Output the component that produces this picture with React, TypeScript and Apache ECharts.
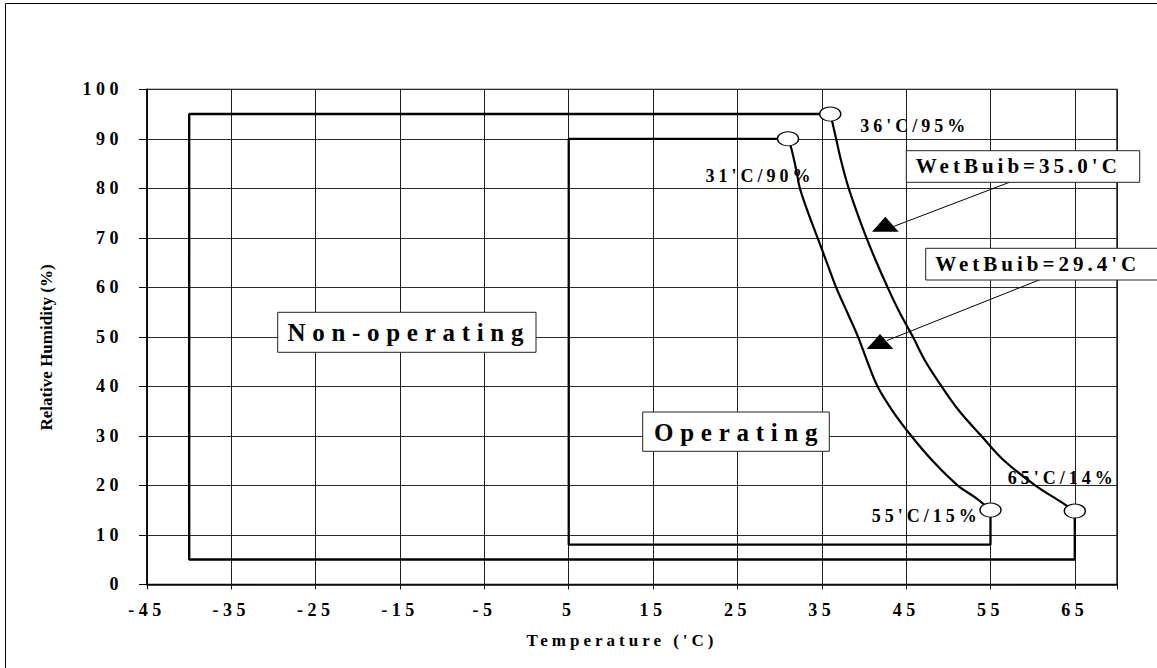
import React, { useEffect, useRef } from "react";
import * as echarts from "echarts";

// ---- axis ranges / ticks ----
const X_MIN = -45;
const X_MAX = 70;
const X_STEP = 10;
const Y_MIN = 0;
const Y_MAX = 100;
const Y_STEP = 10;

// ---- envelopes (temperature 'C, relative humidity %) ----
const nonOperatingTemp = [36, -40, -40, 65, 65];
const nonOperatingRH = [95, 95, 5, 5, 14.8];
const operatingTemp = [31, 5, 5, 55, 55];
const operatingRH = [90, 90, 8, 8, 15];

// ---- wet bulb curves ----
const wetBulb294Temp = [31, 31.4, 32, 32.4, 33.4, 34.5, 35.6, 36.7, 38, 39.3, 40.4, 41.6, 43.4, 45.6, 48.1, 51.1, 53.3, 55];
const wetBulb294RH = [90, 88, 83.5, 80, 75, 70, 65, 60, 55, 50, 45, 40, 35, 30, 25, 20, 17.4, 15];
const wetBulb350Temp = [36, 36.3, 36.7, 37.3, 38.1, 39.2, 40.3, 41.5, 42.8, 44.2, 45.8, 47.3, 49.2, 51.3, 53.9, 56.6, 60.3, 63.4, 65];
const wetBulb350RH = [95, 93, 90, 85.5, 80.5, 75, 70, 65, 60, 55, 50, 45, 40, 35, 30, 25, 20, 16.6, 14.8];

// ---- corner points ----
const cornerNames = ["36'C/95%", "31'C/90%", "55'C/15%", "65'C/14%"];
const cornerTemp = [36, 31, 55, 65];
const cornerRH = [95, 90, 15, 14.8];
const cornerLabelOffsets = [
  [84.5, 12],
  [-28, 37.5],
  [-64.3, 5.5],
  [-12.5, -33.5],
];

// ---- texts ----
const X_TITLE = "Temperature ('C)";
const Y_TITLE = "Relative Humidity (%)";
const NON_OP_TEXT = "Non-operating";
const OP_TEXT = "Operating";
const WB35_TEXT = "WetBuib=35.0'C";
const WB294_TEXT = "WetBuib=29.4'C";

const FONT = '"Liberation Serif", "Times New Roman", serif';

function pairs(xs: number[], ys: number[]) {
  return xs.map((x, i) => [x - X_MIN, ys[i]]);
}

function spacingFor(s: string): number {
  if (/^-?\d+$/.test(s)) return 4.5;
  if (s === NON_OP_TEXT || s === OP_TEXT) return 6.7;
  if (s.startsWith("WetBuib")) return 4;
  if (cornerNames.includes(s)) return 4;
  if (s === X_TITLE) return 4;
  return 0;
}

function applySpacing(root: HTMLElement) {
  root.querySelectorAll("text").forEach((t) => {
    const s = (t.textContent || "").trim();
    const sp = spacingFor(s);
    if (sp) (t as SVGTextElement).style.letterSpacing = sp + "px";
  });
}

export default function App() {
  const ref = useRef<HTMLDivElement>(null);

  useEffect(() => {
    if (!ref.current) return;
    const chart = echarts.init(ref.current, undefined, { renderer: "svg" });

    const lineBase = {
      type: "line" as const,
      symbol: "none",
      silent: true,
      z: 3,
    };

    const boxText = (text: string, x: number, y: number, size: number, rotation = 0) => ({
      type: "text",
      z: 51,
      x,
      y,
      rotation,
      style: {
        text,
        fontSize: size,
        fontWeight: "bold",
        fontFamily: FONT,
        fill: "#000",
        align: "center",
        verticalAlign: "middle",
      },
    });

    const option: any = {
      animation: false,
      backgroundColor: "#fff",
      textStyle: { fontFamily: FONT },
      grid: {
        left: 147,
        top: 89.3,
        right: 40,
        bottom: 83.7,
        show: true,
        borderColor: "#000",
        borderWidth: 1.3,
        containLabel: false,
        outerBoundsMode: "none",
      },
      xAxis: {
        type: "value",
        min: 0,
        max: X_MAX - X_MIN,
        interval: X_STEP,
        axisLine: { show: true, lineStyle: { color: "#000", width: 1.5 } },
        axisTick: { show: true, length: 5, lineStyle: { color: "#000", width: 1 } },
        axisLabel: {
          margin: 17,
          fontSize: 18,
          fontWeight: "bold",
          fontFamily: FONT,
          color: "#000",
          formatter: (v: number) => (v >= X_MAX - X_MIN ? "" : String(Math.round(v + X_MIN))),
        },
        splitLine: { show: true, lineStyle: { color: "#1e1e1e", width: 1 } },
      },
      yAxis: {
        type: "value",
        min: Y_MIN,
        max: Y_MAX,
        interval: Y_STEP,
        axisLine: { show: true, lineStyle: { color: "#000", width: 1.5 } },
        axisTick: { show: true, length: 8, lineStyle: { color: "#000", width: 1 } },
        axisLabel: {
          margin: 24,
          fontSize: 18,
          fontWeight: "bold",
          fontFamily: FONT,
          color: "#000",
        },
        splitLine: { show: true, lineStyle: { color: "#2a2a2a", width: 1 } },
      },
      series: [
        {
          ...lineBase,
          name: "Non-operating",
          data: pairs(nonOperatingTemp, nonOperatingRH),
          lineStyle: { color: "#000", width: 2.4 },
        },
        {
          ...lineBase,
          name: "Operating",
          data: pairs(operatingTemp, operatingRH),
          lineStyle: { color: "#000", width: 2.3 },
        },
        {
          ...lineBase,
          name: "WetBulb 29.4",
          smooth: 0.35,
          data: pairs(wetBulb294Temp, wetBulb294RH),
          lineStyle: { color: "#000", width: 2.2 },
        },
        {
          ...lineBase,
          name: "WetBulb 35.0",
          smooth: 0.35,
          data: pairs(wetBulb350Temp, wetBulb350RH),
          lineStyle: { color: "#000", width: 2.2 },
        },
        {
          type: "scatter",
          name: "Corners",
          silent: true,
          z: 10,
          symbol: "circle",
          symbolSize: [21, 14],
          itemStyle: { color: "#ffffff", borderColor: "#000", borderWidth: 1.2, opacity: 1 },
          label: {
            show: true,
            position: "inside",
            formatter: (p: any) => p.name,
            fontSize: 18,
            fontWeight: "bold",
            fontFamily: FONT,
            color: "#000",
          },
          data: cornerNames.map((n, i) => ({
            name: n,
            value: [cornerTemp[i] - X_MIN, cornerRH[i]],
            label: { offset: cornerLabelOffsets[i] },
          })),
        },
      ],
      graphic: [
        // outer frame (left and top visible)
        { type: "line", z: 50, shape: { x1: 5.5, y1: 3.5, x2: 5.5, y2: 668 }, style: { stroke: "#000", lineWidth: 1 } },
        { type: "line", z: 50, shape: { x1: 5.5, y1: 3.5, x2: 1157, y2: 3.5 }, style: { stroke: "#000", lineWidth: 1 } },
        // Non-operating box
        { type: "rect", z: 50, shape: { x: 277.7, y: 312.3, width: 258.3, height: 40 }, style: { fill: "#fff", stroke: "#222", lineWidth: 1 } },
        boxText(NON_OP_TEXT, 408.8, 332, 25),
        // Operating box
        { type: "rect", z: 50, shape: { x: 642.7, y: 412, width: 186.6, height: 39.3 }, style: { fill: "#fff", stroke: "#222", lineWidth: 1 } },
        boxText(OP_TEXT, 739.1, 432, 25),
        // WetBulb 35.0 annotation
        { type: "line", z: 50, shape: { x1: 1011, y1: 181.7, x2: 893.5, y2: 226.5 }, style: { stroke: "#000", lineWidth: 1 } },
        { type: "polygon", z: 50, shape: { points: [[885.3, 216.7], [872, 231.7], [898.7, 231.7]] }, style: { fill: "#000" } },
        { type: "rect", z: 50, shape: { x: 906.3, y: 150.7, width: 233.4, height: 31.6 }, style: { fill: "#fff", stroke: "#222", lineWidth: 1 } },
        boxText(WB35_TEXT, 1018.3, 165.8, 21),
        // WetBulb 29.4 annotation
        { type: "line", z: 50, shape: { x1: 1040.3, y1: 279.5, x2: 887, y2: 340.5 }, style: { stroke: "#000", lineWidth: 1 } },
        { type: "polygon", z: 50, shape: { points: [[880, 334], [866.7, 349], [893.3, 349]] }, style: { fill: "#000" } },
        { type: "rect", z: 50, shape: { x: 925.7, y: 248.3, width: 245, height: 31.7 }, style: { fill: "#fff", stroke: "#222", lineWidth: 1 } },
        boxText(WB294_TEXT, 1037.7, 263.8, 21),
        // axis titles
        boxText(X_TITLE, 622, 640, 17),
        boxText(Y_TITLE, 46.7, 347.5, 17, Math.PI / 2),
      ],
    };

    chart.setOption(option);
    const el = ref.current;
    applySpacing(el);
    chart.on("finished", () => applySpacing(el));
    const t = window.setTimeout(() => applySpacing(el), 50);

    return () => {
      window.clearTimeout(t);
      chart.dispose();
    };
  }, []);

  return (
    <div
      ref={ref}
      style={{ position: "fixed", left: 0, top: 0, width: 1157, height: 668, background: "#fff" }}
    />
  );
}
